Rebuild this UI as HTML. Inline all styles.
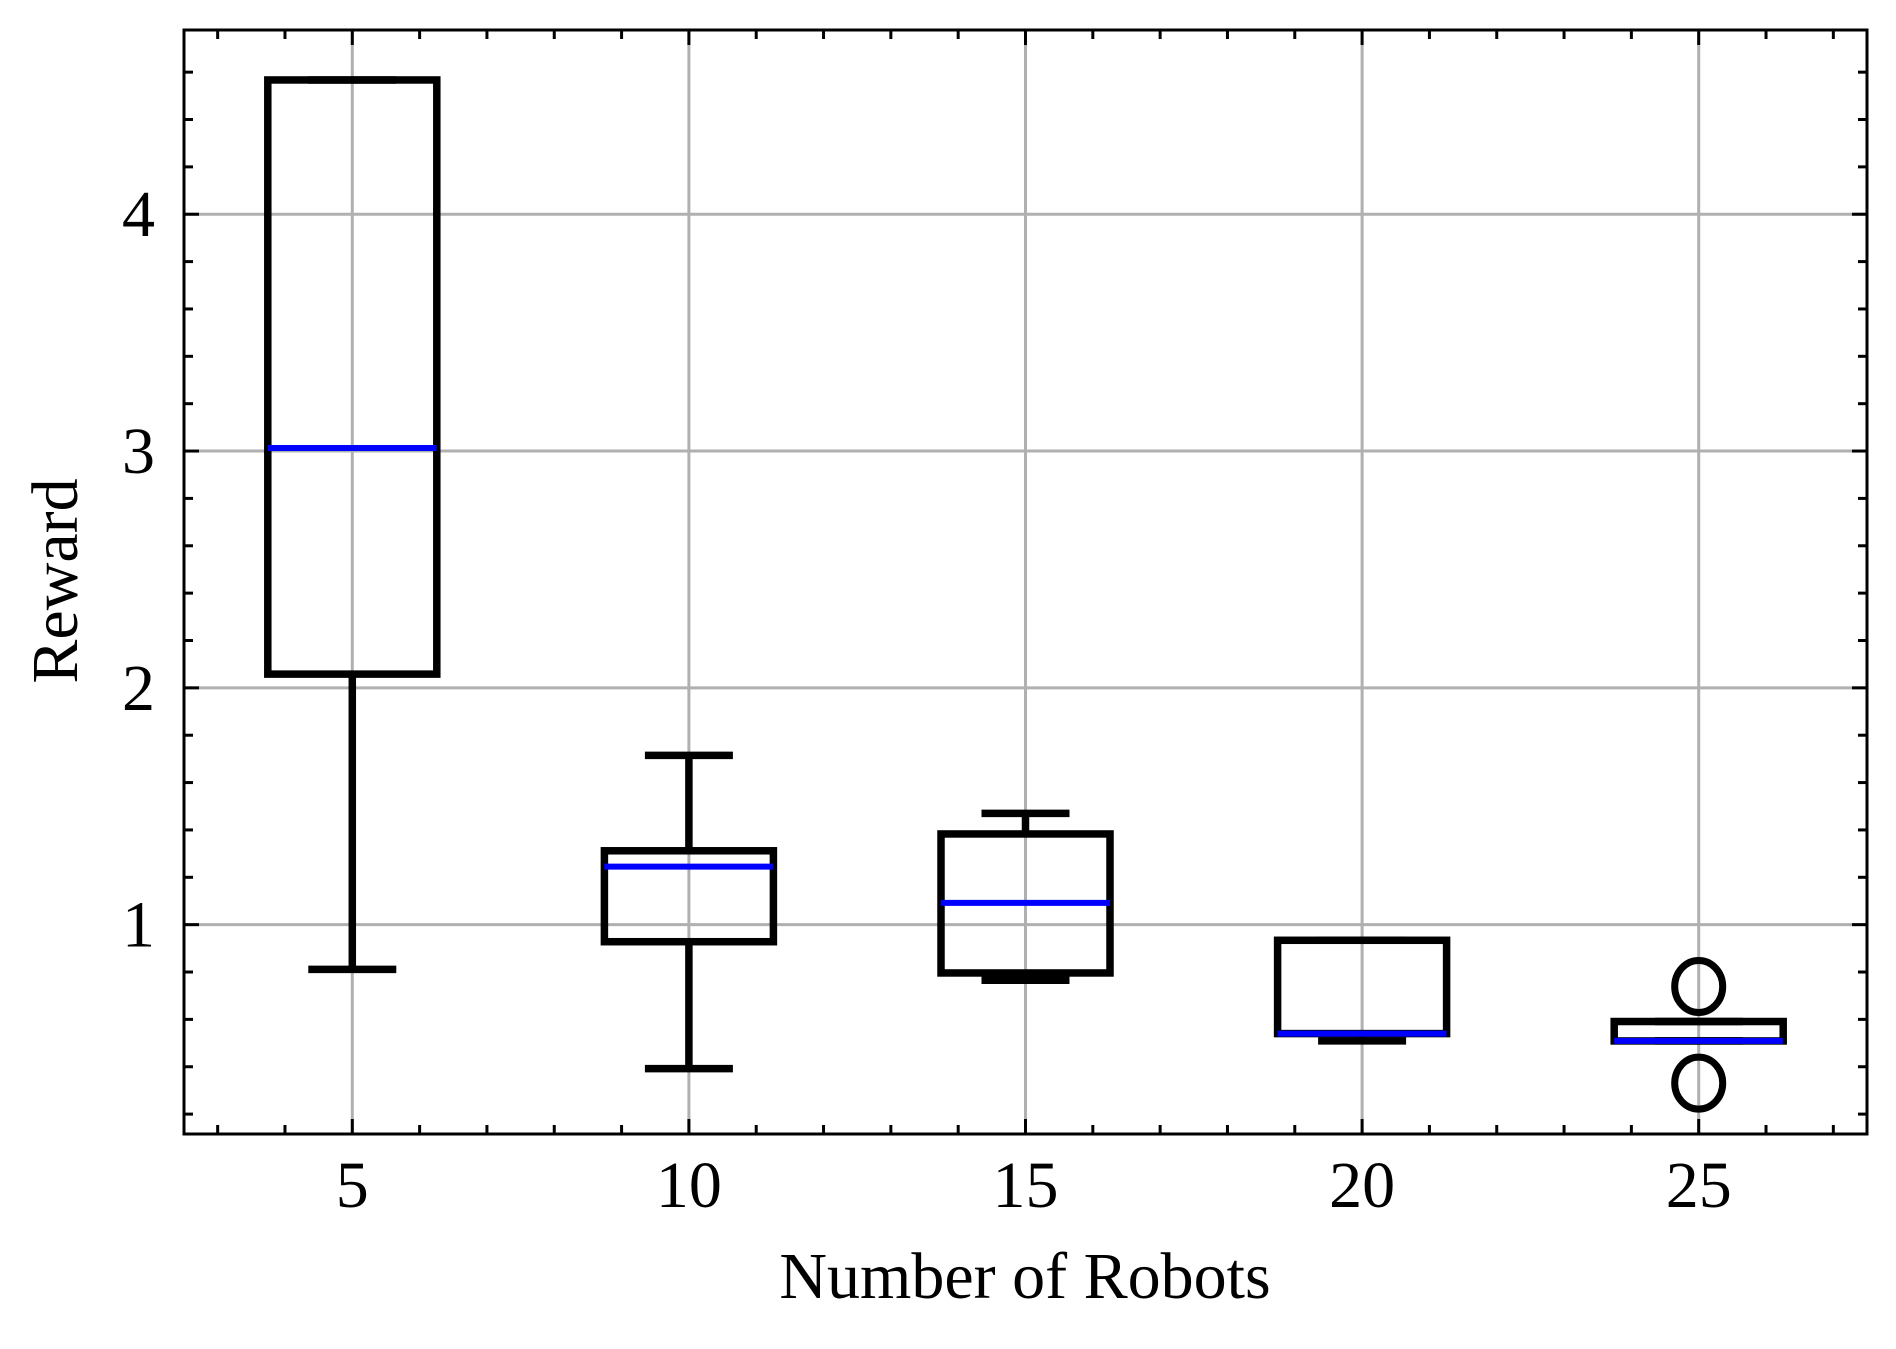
<!DOCTYPE html>
<html><head><meta charset="utf-8"><style>
html,body{margin:0;padding:0;background:#fff;}
svg text{font-family:"Liberation Serif",serif;fill:#000;}
</style></head><body>
<svg id="chart" width="1896" height="1344" xmlns="http://www.w3.org/2000/svg"></svg>
<script>
const categories = [5, 10, 15, 20, 25];
const whiskerLow = [0.811, 0.392, 0.765, 0.509, 0.509];
const q1Values = [2.058, 0.928, 0.796, 0.540, 0.509];
const medianValues = [3.013, 1.245, 1.092, 0.540, 0.509];
const q3Values = [4.567, 1.312, 1.383, 0.934, 0.591];
const whiskerHigh = [4.567, 1.715, 1.470, 0.934, 0.591];
const outlierGroups = [[], [], [], [], [0.739, 0.331]];
const xTickLabels = [5, 10, 15, 20, 25];
const yTickLabels = [1, 2, 3, 4];

const L = 184, R = 1867, T = 30, B = 1134;
const xMin = 2.5, xMax = 27.5, yMin = 0.116, yMax = 4.778;
const sx = v => L + (v - xMin) / (xMax - xMin) * (R - L);
const sy = v => B - (v - yMin) / (yMax - yMin) * (B - T);
const svg = document.getElementById('chart');
const NS = 'http://www.w3.org/2000/svg';
function mk(tag, attrs, parent) {
  const e = document.createElementNS(NS, tag);
  for (const k in attrs) e.setAttribute(k, attrs[k]);
  (parent || svg).appendChild(e);
  return e;
}
const grid = mk('g', {});


xTickLabels.forEach(v => mk('line', {x1: sx(v), x2: sx(v), y1: T, y2: B, stroke: '#b0b0b0', 'stroke-width': 3}, grid));
yTickLabels.forEach(v => mk('line', {x1: L, x2: R, y1: sy(v), y2: sy(v), stroke: '#b0b0b0', 'stroke-width': 3}, grid));
const ticks = mk('g', {stroke: '#000', 'stroke-width': 3});


for (let v = 3; v <= 27; v++) {
  const len = (v % 5 === 0) ? 15 : 9;
  mk('line', {x1: sx(v), x2: sx(v), y1: B, y2: B - len}, ticks);
  mk('line', {x1: sx(v), x2: sx(v), y1: T, y2: T + len}, ticks);
}
for (let i = 1; i <= 23; i++) {
  const v = i * 0.2;
  if (v < yMin || v > yMax) continue;
  const len = (Math.abs(v - Math.round(v)) < 1e-6) ? 15 : 9;
  mk('line', {x1: L, x2: L + len, y1: sy(v), y2: sy(v)}, ticks);
  mk('line', {x1: R, x2: R - len, y1: sy(v), y2: sy(v)}, ticks);
}
const hw = 84.5, cw = 44;
categories.forEach((c, i) => {
  const g = mk('g', {fill: 'none', stroke: '#000', 'stroke-width': 7.5});
  
  
  const x = sx(c);
  mk('line', {x1: x, x2: x, y1: sy(q1Values[i]), y2: sy(whiskerLow[i])}, g);
  mk('line', {x1: x, x2: x, y1: sy(q3Values[i]), y2: sy(whiskerHigh[i])}, g);
  mk('line', {x1: x - cw, x2: x + cw, y1: sy(whiskerLow[i]), y2: sy(whiskerLow[i])}, g);
  mk('line', {x1: x - cw, x2: x + cw, y1: sy(whiskerHigh[i]), y2: sy(whiskerHigh[i])}, g);
  mk('rect', {x: x - hw, y: sy(q3Values[i]), width: 2 * hw, height: sy(q1Values[i]) - sy(q3Values[i])}, g);
  const m = mk('line', {x1: x - hw, x2: x + hw, y1: sy(medianValues[i]), y2: sy(medianValues[i]), stroke: '#0000ff', 'stroke-width': 6}, g);
  
  
  outlierGroups[i].forEach(o => {
    const ci = mk('ellipse', {cx: x, cy: sy(o), rx: 24, ry: 26, 'stroke-width': 7}, g);
    
    
  });
});
const frame = mk('rect', {x: L, y: T, width: R - L, height: B - T, fill: 'none', stroke: '#000', 'stroke-width': 3});


xTickLabels.forEach(v => {
  const t = mk('text', {x: sx(v), y: 1207, 'font-size': 66, 'text-anchor': 'middle'});
  t.textContent = v;
  
  
});
yTickLabels.forEach(v => {
  const t = mk('text', {x: 155, y: sy(v) + 22, 'font-size': 66, 'text-anchor': 'end'});
  t.textContent = v;
  
  
});
const xt = mk('text', {x: 1025, y: 1298, 'font-size': 66, 'text-anchor': 'middle'});
xt.textContent = 'Number of Robots';


const yt = mk('text', {x: 0, y: 0, 'font-size': 66, 'text-anchor': 'middle', transform: 'translate(77,581) rotate(-90)'});
yt.textContent = 'Reward';


</script>
</body></html>
